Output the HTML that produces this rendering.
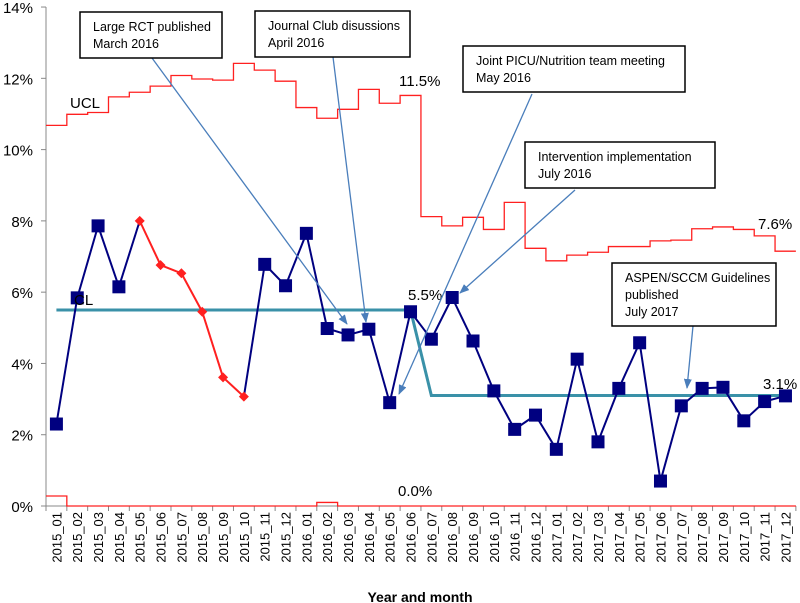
<!DOCTYPE html>
<html><head><meta charset="utf-8"><style>
html,body{margin:0;padding:0;background:#fff;}
svg{display:block;font-family:"Liberation Sans",Arial,sans-serif;}
</style></head><body>
<svg id="chart" width="800" height="603" viewBox="0 0 800 603"></svg>
<script>
const categories=["2015_01","2015_02","2015_03","2015_04","2015_05","2015_06","2015_07","2015_08","2015_09","2015_10","2015_11","2015_12","2016_01","2016_02","2016_03","2016_04","2016_05","2016_06","2016_07","2016_08","2016_09","2016_10","2016_11","2016_12","2017_01","2017_02","2017_03","2017_04","2017_05","2017_06","2017_07","2017_08","2017_09","2017_10","2017_11","2017_12"];
const rateValues=[2.30,5.84,7.86,6.15,8.0,6.76,6.53,5.45,3.61,3.07,6.78,6.18,7.65,4.98,4.80,4.96,2.90,5.45,4.68,5.85,4.63,3.23,2.15,2.55,1.59,4.12,1.80,3.30,4.58,0.70,2.81,3.30,3.33,2.39,2.93,3.09];
const redFlags=[0,0,0,0,1,1,1,1,1,1,0,0,0,0,0,0,0,0,0,0,0,0,0,0,0,0,0,0,0,0,0,0,0,0,0,0];
const uclValues=[10.68,10.99,11.04,11.48,11.61,11.78,12.08,11.98,11.95,12.42,12.23,11.92,11.18,10.88,11.13,11.69,11.30,11.52,8.12,7.86,8.10,7.76,8.52,7.23,6.88,7.04,7.12,7.28,7.28,7.44,7.46,7.78,7.83,7.76,7.58,7.15];
const lclValues=[0.28,0,0,0,0,0,0,0,0,0,0,0,0,0.1,0,0,0,0,0,0,0,0,0,0,0,0,0,0,0,0,0,0,0,0,0,0];
const clValues=[5.5,5.5,5.5,5.5,5.5,5.5,5.5,5.5,5.5,5.5,5.5,5.5,5.5,5.5,5.5,5.5,5.5,5.5,3.1,3.1,3.1,3.1,3.1,3.1,3.1,3.1,3.1,3.1,3.1,3.1,3.1,3.1,3.1,3.1,3.1,3.1];
const yTicks=[0,2,4,6,8,10,12,14];

const NS="http://www.w3.org/2000/svg";
const svg=document.getElementById('chart');
const X0=46,BW=20.83,Y0=506,PY=35.64;
const xL=i=>X0+i*BW, xC=i=>X0+(i+0.5)*BW, y=v=>Y0-v*PY;
function mk(t,a,p){const e=document.createElementNS(NS,t);for(const k in a)e.setAttribute(k,a[k]);(p||svg).appendChild(e);return e;}

let ax=mk('line',{x1:X0,y1:7,x2:X0,y2:Y0,stroke:'#888','stroke-width':1});


yTicks.forEach(v=>{
  mk('line',{x1:X0-5,y1:y(v),x2:X0,y2:y(v),stroke:'#888'});
  const t=mk('text',{x:33,y:y(v)+6,'text-anchor':'end','font-size':15,fill:'#000'});
  t.textContent=v+'%';
  
  
});
let xa=mk('line',{x1:X0,y1:Y0,x2:xL(36),y2:Y0,stroke:'#888'});


categories.forEach((c,i)=>{
  mk('line',{x1:xL(i),y1:Y0,x2:xL(i),y2:Y0+5,stroke:'#888'});
  const t=mk('text',{x:0,y:0,transform:`translate(${xC(i)+5},512) rotate(-90)`,'text-anchor':'end','font-size':13,fill:'#000'});
  t.textContent=c;
  
  
});
mk('line',{x1:xL(36),y1:Y0,x2:xL(36),y2:Y0+5,stroke:'#888'});
const xt=mk('text',{x:420,y:602,'text-anchor':'middle','font-size':14,'font-weight':'bold'});
xt.textContent='Year and month';



function stepPath(vals){let d='';vals.forEach((v,i)=>{d+=(i?'L':'M')+xL(i)+','+y(v)+'L'+xL(i+1)+','+y(v);});return d;}
const ucl=mk('path',{d:stepPath(uclValues),fill:'none',stroke:'#ff2020','stroke-width':1.3});


const lcl=mk('path',{d:stepPath(lclValues),fill:'none',stroke:'#ff2020','stroke-width':1.3});



const cl=mk('path',{d:clValues.map((v,i)=>(i?'L':'M')+xC(i)+','+y(v)).join(''),fill:'none',stroke:'#3a91a8','stroke-width':3});



for(let i=0;i<rateValues.length-1;i++){
  const red=redFlags[i]&&redFlags[i+1];
  const s=mk('line',{x1:xC(i),y1:y(rateValues[i]),x2:xC(i+1),y2:y(rateValues[i+1]),stroke:red?'#ff2020':'#000080','stroke-width':2});
  
  
}
rateValues.forEach((v,i)=>{
  let m;
  if(redFlags[i]){
    const cx=xC(i),cy=y(v);
    m=mk('polygon',{points:`${cx},${cy-5} ${cx+5},${cy} ${cx},${cy+5} ${cx-5},${cy}`,fill:'#ff2020'});
  } else {
    m=mk('rect',{x:xC(i)-6.5,y:y(v)-6.5,width:13,height:13,fill:'#000080'});
  }
  
  
});

[["UCL",70,108],["CL",74,305],["11.5%",399,86],["5.5%",408,300],["0.0%",398,496],["7.6%",758,229],["3.1%",763,389]].forEach(l=>{
  const t=mk('text',{x:l[1],y:l[2],'font-size':15,fill:'#000'});
  t.textContent=l[0];
  
  
});

const defs=mk('defs',{});
const mkr=mk('marker',{id:'ah',markerWidth:10,markerHeight:8,refX:9,refY:4,orient:'auto',markerUnits:'userSpaceOnUse'},defs);
mk('path',{d:'M0,0L10,4L0,8z',fill:'#4a7ebb'},mkr);
const notes=[
 {x:80,y:12,w:142,h:46,lines:["Large RCT published","March 2016"],ax:152,ay:58,bx:347,by:324},
 {x:255,y:11,w:155,h:46,lines:["Journal Club disussions","April 2016"],ax:333,ay:57,bx:366,by:322},
 {x:463,y:46,w:222,h:46,lines:["Joint PICU/Nutrition team meeting","May 2016"],ax:532,ay:94,bx:399,by:394},
 {x:525,y:142,w:190,h:46,lines:["Intervention implementation","July 2016"],ax:575,ay:190,bx:460,by:293},
 {x:612,y:263,w:164,h:63,lines:["ASPEN/SCCM Guidelines","published","July 2017"],ax:693,ay:326,bx:687,by:388}
];
notes.forEach(n=>{
  const a=mk('line',{x1:n.ax,y1:n.ay,x2:n.bx,y2:n.by,stroke:'#4a7ebb','stroke-width':1.3,'marker-end':'url(#ah)'});
  
  
});
notes.forEach(n=>{
  const g=mk('g',{});
  
  
  mk('rect',{x:n.x,y:n.y,width:n.w,height:n.h,fill:'#fff',stroke:'#000','stroke-width':1.5},g);
  n.lines.forEach((s,k)=>{const t=mk('text',{x:n.x+13,y:n.y+19+k*17,'font-size':12.5,fill:'#000'},g);t.textContent=s;});
});
</script>
</body></html>
